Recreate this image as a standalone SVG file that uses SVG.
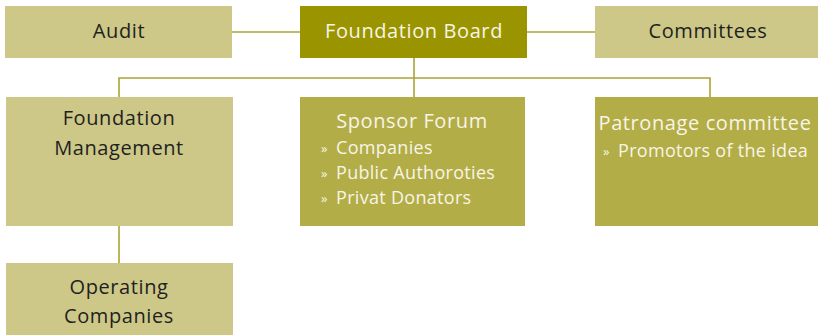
<svg xmlns="http://www.w3.org/2000/svg" width="818" height="335" viewBox="0 0 818 335">
<style>
.light{fill:#cdc888}
.mid{fill:#b3ad47}
.dark{fill:#9a9400}
.t{font-family:"Open Sans","Liberation Sans",sans-serif;font-size:20px;letter-spacing:0.6px}
.s{font-family:"Open Sans","Liberation Sans",sans-serif;font-size:18px;letter-spacing:0.3px}
.dk{fill:#231f20}
.wh{fill:#f7f5e6}
.bul{font-size:13px;letter-spacing:0}
.conn{stroke:#aaa434;stroke-width:1.6;fill:none}
</style>
<rect width="818" height="335" fill="#ffffff"/>
<g id="connectors" class="conn">
<line x1="232" y1="32" x2="300" y2="32"/>
<line x1="527" y1="32" x2="595" y2="32"/>
<line x1="414" y1="58" x2="414" y2="97"/>
<polyline points="119,97 119,78 710,78 710,97"/>
<line x1="119" y1="226" x2="119" y2="263"/>
</g>
<g id="audit">
<rect class="light" x="5" y="6" width="227" height="52"/>
<text class="t dk" x="119" y="38" text-anchor="middle">Audit</text>
</g>
<g id="board">
<rect class="dark" x="300" y="6" width="227" height="52"/>
<text class="t wh" x="414" y="38" text-anchor="middle">Foundation Board</text>
</g>
<g id="committees">
<rect class="light" x="595" y="6" width="223" height="52"/>
<text class="t dk" x="708" y="38" text-anchor="middle">Committees</text>
</g>
<g id="management">
<rect class="light" x="6" y="97" width="227" height="129"/>
<text class="t dk" x="119" y="125" text-anchor="middle">Foundation</text>
<text class="t dk" x="119" y="155" text-anchor="middle">Management</text>
</g>
<g id="operating">
<rect class="light" x="6" y="263" width="227" height="72"/>
<text class="t dk" x="119" y="294" text-anchor="middle">Operating</text>
<text class="t dk" x="119" y="323" text-anchor="middle">Companies</text>
</g>
<g id="sponsor">
<rect class="mid" x="300" y="97" width="225" height="129"/>
<text class="t wh" x="412" y="128" text-anchor="middle">Sponsor Forum</text>
<text class="s wh" y="154"><tspan class="bul" x="321" dy="-1">»</tspan><tspan x="336" dy="1">Companies</tspan></text>
<text class="s wh" y="179"><tspan class="bul" x="321" dy="-1">»</tspan><tspan x="336" dy="1">Public Authoroties</tspan></text>
<text class="s wh" y="204"><tspan class="bul" x="321" dy="-1">»</tspan><tspan x="336" dy="1">Privat Donators</tspan></text>
</g>
<g id="patronage">
<rect class="mid" x="595" y="97" width="223" height="129"/>
<text class="t wh" x="705" y="130" text-anchor="middle">Patronage committee</text>
<text class="s wh" y="157"><tspan class="bul" x="603" dy="-1">»</tspan><tspan x="618" dy="1">Promotors of the idea</tspan></text>
</g>
</svg>
